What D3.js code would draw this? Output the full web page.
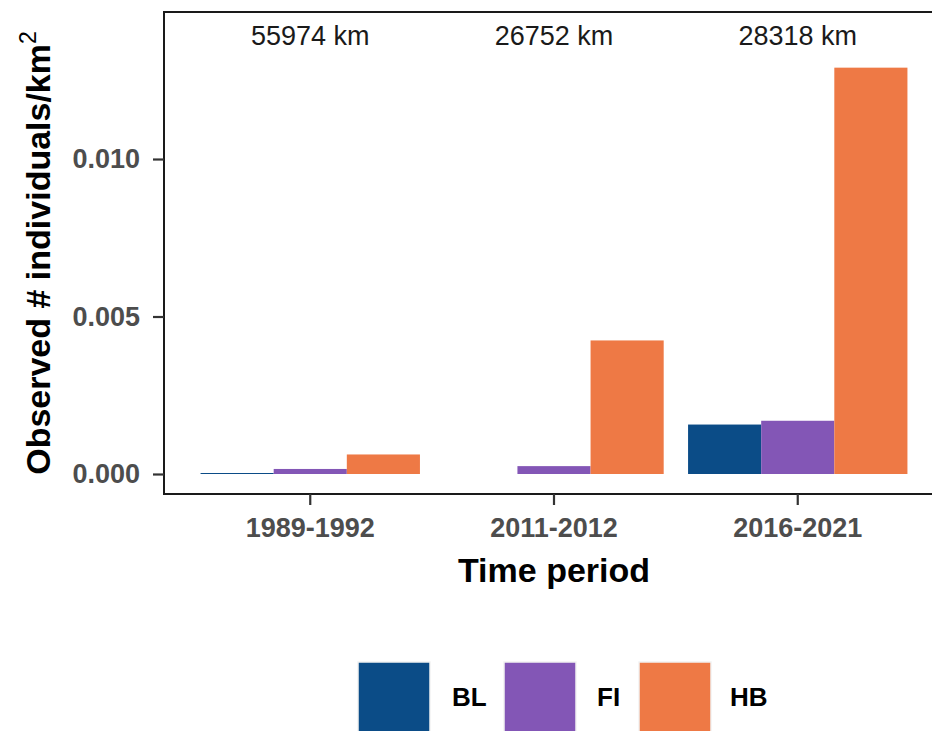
<!DOCTYPE html>
<html>
<head>
<meta charset="utf-8">
<script src="https://cdn.jsdelivr.net/npm/d3@7"></script>
<style>
  body { margin: 0; background: #fff; }
  svg { display: block; font-family: "Liberation Sans", Arial, sans-serif; }
</style>
</head>
<body>
<svg id="chart" width="932" height="731"></svg>
<script>
// periods on the x axis, survey effort printed above each group
var periods = ['1989-1992', '2011-2012', '2016-2021'];
var effort = ['55974 km', '26752 km', '28318 km'];
var groups = ['BL', 'FI', 'HB'];

// observed individuals per km2
var BL = [0.00002, 0, 0.00157];
var FI = [0.00016, 0.00025, 0.00169];
var HB = [0.00062, 0.00424, 0.0129];

var yTicks = [0, 0.005, 0.010];
var colors = { BL: '#0b4c87', FI: '#8356b6', HB: '#ee7945' };

var series = { BL: BL, FI: FI, HB: HB };
var rows = [];
periods.forEach(function (p, i) {
    groups.forEach(function (g) {
        rows.push({ period: p, group: g, value: series[g][i] });
    });
});

var svg = d3.select('#chart');
var panel = { left: 164, right: 944, top: 12, bottom: 494 };

var x = d3.scaleBand()
    .domain(periods)
    .range([panel.left, panel.right])
    .paddingInner(0.1)
    .paddingOuter(0.15);

var xg = d3.scaleBand()
    .domain(groups)
    .range([0, x.bandwidth()]);

// ggplot style 5% expansion, text labels sit near the top
var y = d3.scaleLinear()
    .domain([-0.000635, 0.014667])
    .range([panel.bottom, panel.top]);

// bars
svg.append('g').selectAll('rect')
    .data(rows.filter(function (d) { return d.value > 0; }))
    .enter().append('rect')
    .attr('x', function (d) { return x(d.period) + xg(d.group); })
    .attr('width', xg.bandwidth())
    .attr('y', function (d) { return Math.min(y(d.value), y(0) - 1); })
    .attr('height', function (d) { return Math.max(y(0) - y(d.value), 1); })
    .attr('fill', function (d) { return colors[d.group]; });

// effort labels
svg.append('g').selectAll('text')
    .data(periods)
    .enter().append('text')
    .attr('x', function (d) { return x(d) + x.bandwidth() / 2; })
    .attr('y', 45)
    .attr('text-anchor', 'middle')
    .attr('font-size', 27)
    .attr('fill', '#1a1a1a')
    .text(function (d, i) { return effort[i]; });

// panel border
svg.append('rect')
    .attr('x', panel.left)
    .attr('y', panel.top)
    .attr('width', panel.right - panel.left)
    .attr('height', panel.bottom - panel.top)
    .attr('fill', 'none')
    .attr('stroke', '#1a1a1a')
    .attr('stroke-width', 2);

// y axis
var yAxis = svg.append('g')
    .attr('transform', 'translate(' + panel.left + ',0)')
    .call(d3.axisLeft(y).tickValues(yTicks).tickFormat(d3.format('.3f')).tickSize(11).tickPadding(13));
yAxis.select('.domain').remove();
yAxis.selectAll('line').attr('stroke', '#333').attr('stroke-width', 2.2);
yAxis.selectAll('text')
    .attr('font-family', '"Liberation Sans", Arial, sans-serif')
    .attr('font-size', 27).attr('font-weight', 'bold').attr('fill', '#4d4d4d');

// x axis
var xAxis = svg.append('g')
    .attr('transform', 'translate(0,' + panel.bottom + ')')
    .call(d3.axisBottom(x).tickSize(11).tickPadding(13));
xAxis.select('.domain').remove();
xAxis.selectAll('line').attr('stroke', '#333').attr('stroke-width', 2.2);
xAxis.selectAll('text')
    .attr('font-family', '"Liberation Sans", Arial, sans-serif')
    .attr('font-size', 27).attr('font-weight', 'bold').attr('fill', '#4d4d4d');

// axis titles
svg.append('text')
    .attr('x', (panel.left + panel.right) / 2)
    .attr('y', 582)
    .attr('text-anchor', 'middle')
    .attr('font-size', 34)
    .attr('font-weight', 'bold')
    .attr('fill', '#000')
    .text('Time period');

var yt = svg.append('text')
    .attr('transform', 'translate(50,' + ((panel.top + panel.bottom) / 2) + ') rotate(-90)')
    .attr('text-anchor', 'middle')
    .attr('font-size', 34)
    .attr('font-weight', 'bold')
    .attr('fill', '#000');
yt.append('tspan').text('Observed # individuals/km');
yt.append('tspan').attr('dy', -14).attr('font-size', 23).attr('font-weight', 'normal').text('2');

// legend
var keyX = [358, 504, 639];
var legend = svg.append('g').selectAll('g')
    .data(groups)
    .enter().append('g')
    .attr('transform', function (d, i) { return 'translate(' + keyX[i] + ',662)'; });
legend.append('rect')
    .attr('width', 72).attr('height', 72)
    .attr('fill', function (d) { return colors[d]; })
    .attr('stroke', '#f2f2f2').attr('stroke-width', 1.5);
legend.append('text')
    .attr('x', function (d, i) { return [94, 93, 91][i]; })
    .attr('y', 44)
    .attr('font-size', 26)
    .attr('font-weight', 'bold')
    .attr('fill', '#000')
    .text(function (d) { return d; });
</script>
</body>
</html>
